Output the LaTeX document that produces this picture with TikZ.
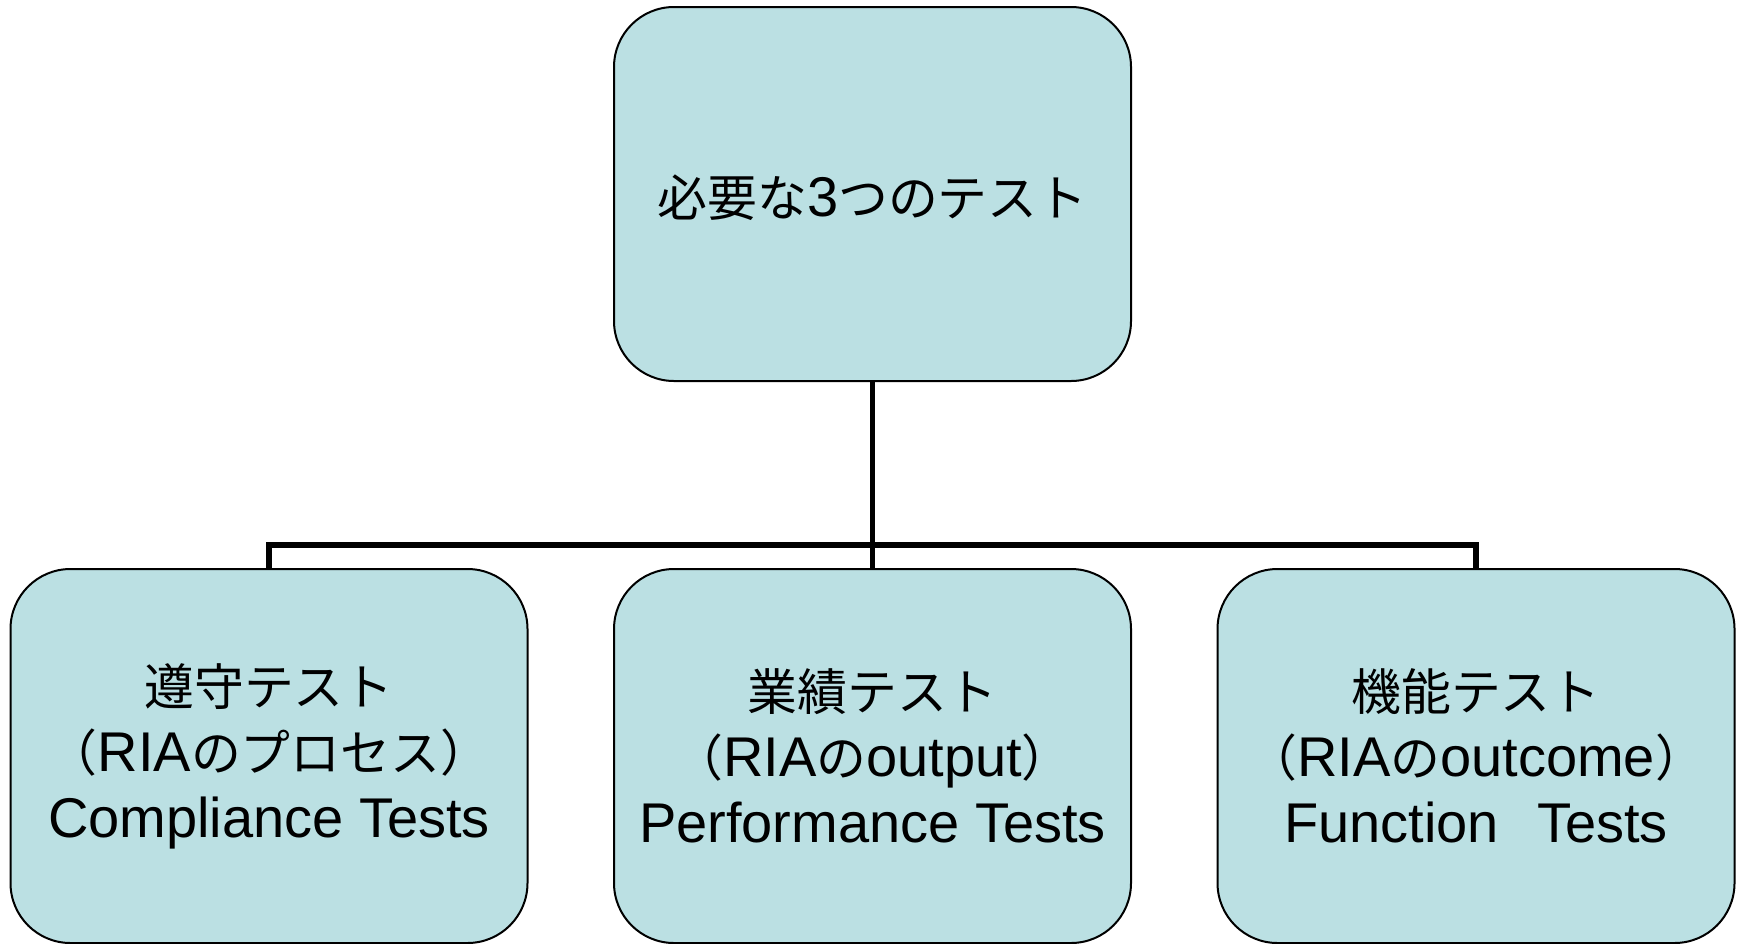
\documentclass[tikz,border=0pt]{standalone}
\usepackage{fontspec}
\setmainfont{Liberation Sans}
\newfontfamily\jp[Scale=0.89]{Noto Sans CJK JP}
\definecolor{boxfill}{RGB}{187,224,227}
\begin{document}
\begin{tikzpicture}[x=1pt,y=-1pt,
  tbox/.style={draw=black,line width=2pt,fill=boxfill,rounded corners=60pt,
    minimum width=517pt,minimum height=374pt,inner sep=0pt,align=center,
    font=\fontsize{56}{66}\selectfont},
  conn/.style={line width=5.5pt,draw=black}]
\useasboundingbox (0,0) rectangle (1744,943);
\node[tbox] (top) at (872.5,194) {\raisebox{-4pt}[\height][\depth]{{\jp 必要な}3{\jp つのテスト}}};
\node[tbox] (left) at (269,756) {{\jp 遵守テスト}\\{\jp （}RIA{\jp のプロセス）}\\Compliance Tests};
\node[tbox] (mid) at (872.5,756) {{\jp 業績テスト}\\{\jp （}RIA{\jp の}output{\jp ）}\\Performance Tests};
\node[tbox] (right) at (1476,756) {{\jp 機能テスト}\\{\jp （}RIA{\jp の}outcome{\jp ）}\\Function\hspace{38pt}Tests};
\coordinate (j) at (872.5,545);
\draw[conn] (top.south) -- (j);
\draw[conn] (j) -- (mid.north);
\draw[conn] (left.north) |- (j) -| (right.north);
\end{tikzpicture}
\end{document}
